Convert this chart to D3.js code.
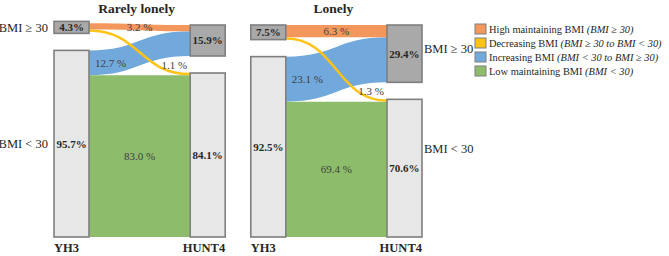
<!DOCTYPE html>
<html>
<head>
<meta charset="utf-8">
<script src="https://cdn.jsdelivr.net/npm/d3@7"></script>
<style>
  body { margin: 0; background: #fff; }
</style>
</head>
<body>
<svg id="chart" width="669" height="256" font-family="'Liberation Serif', 'Times New Roman', Times, serif"></svg>
<script>
const panels = ["Rarely lonely", "Lonely"];
const stages = ["YH3", "HUNT4"];
const yh3High = [4.3, 7.5];
const yh3Low = [95.7, 92.5];
const hunt4High = [15.9, 29.4];
const hunt4Low = [84.1, 70.6];
const flowHigh = [3.2, 6.3];
const flowDecreasing = [1.1, 1.3];
const flowIncreasing = [12.7, 23.1];
const flowLow = [83.0, 69.4];
const groupLabels = ["BMI \u2265 30", "BMI < 30"];
const legendLabels = [
  ["High maintaining BMI ", "(BMI \u2265 30)"],
  ["Decreasing BMI ", "(BMI \u2265 30 to BMI < 30)"],
  ["Increasing  BMI ", "(BMI < 30 to BMI \u2265 30)"],
  ["Low maintaining  BMI ", "(BMI < 30)"],
];

const COLORS = { high: "#f4975c", dec: "#ffc217", inc: "#72a9dc", low: "#8dbd6b" };
const NODE_DARK = "#a9a9a9", NODE_LIGHT = "#e7e7e7", NODE_STROKE = "#7f7f7f";
const BOTTOM = 237, GAP = 17, NODE_W = 35, MIN_H = 12;

const svg = d3.select("#chart");
const h = d3.scaleLinear().domain([0, 100]).range([0, 195]);
const px = d3.scaleBand().domain(panels).range([54, 422]).paddingInner(0.13);
const sx = d3.scalePoint().domain(stages).range([0, px.bandwidth() - NODE_W]);

function band(x0, a0, b0, x1, a1, b1) {
  const xm = (x0 + x1) / 2;
  return `M${x0},${a0}C${xm},${a0} ${xm},${a1} ${x1},${a1}L${x1},${b1}C${xm},${b1} ${xm},${b0} ${x0},${b0}Z`;
}

const fmt = (v) => `${v.toFixed(1)} %`;

panels.forEach((name, i) => {
  const g = svg.append("g").attr("transform", `translate(${px(name)},0)`);
  const xl = sx("YH3"), xr = sx("HUNT4");

  // node extents
  const lLowTop = BOTTOM - h(yh3Low[i]);
  const lHighH = Math.max(h(yh3High[i]), MIN_H);
  const lHighTop = lLowTop - GAP - lHighH;
  const rLowTop = BOTTOM - h(hunt4Low[i]);
  const rHighH = h(hunt4High[i]);
  const rHighTop = rLowTop - GAP - rHighH;

  // flow positions
  const lFlowTop = lHighTop + (lHighH - h(flowHigh[i] + flowDecreasing[i])) / 2;
  const hiL = [lFlowTop, lFlowTop + h(flowHigh[i])];
  const hiR = [rHighTop, rHighTop + h(flowHigh[i])];
  const decL = (hiL[1] + hiL[1] + h(flowDecreasing[i])) / 2;
  const decR = rLowTop + h(flowDecreasing[i]) / 2;
  const incL = [lLowTop, lLowTop + h(flowIncreasing[i])];
  const incR = [hiR[1], hiR[1] + h(flowIncreasing[i])];
  const lowL = [incL[1], BOTTOM];
  const lowR = [rLowTop + h(flowDecreasing[i]), BOTTOM];

  const x0 = xl + NODE_W, x1 = xr;
  g.append("path").attr("d", band(x0, incL[0], incL[1], x1, incR[0], incR[1])).attr("fill", COLORS.inc);
  g.append("path").attr("d", band(x0, lowL[0], lowL[1], x1, lowR[0], lowR[1])).attr("fill", COLORS.low);
  g.append("path").attr("d", band(x0, hiL[0], hiL[1], x1, hiR[0], hiR[1])).attr("fill", COLORS.high);
  g.append("path")
    .attr("d", d3.linkHorizontal()({ source: [x0, decL], target: [x1, decR] }))
    .attr("fill", "none").attr("stroke", COLORS.dec).attr("stroke-width", 2.5);

  // nodes
  const nodes = [
    { x: xl, y: lHighTop, hh: lHighH, fill: NODE_DARK, v: yh3High[i] },
    { x: xl, y: lLowTop, hh: BOTTOM - lLowTop, fill: NODE_LIGHT, v: yh3Low[i] },
    { x: xr, y: rHighTop, hh: rHighH, fill: NODE_DARK, v: hunt4High[i] },
    { x: xr, y: rLowTop, hh: BOTTOM - rLowTop, fill: NODE_LIGHT, v: hunt4Low[i] },
  ];
  g.selectAll("rect.node").data(nodes).join("rect").attr("class", "node")
    .attr("x", (d) => d.x).attr("y", (d) => d.y)
    .attr("width", NODE_W).attr("height", (d) => d.hh)
    .attr("fill", (d) => d.fill).attr("stroke", NODE_STROKE).attr("stroke-width", 1.6);
  g.selectAll("text.node").data(nodes).join("text").attr("class", "node")
    .attr("x", (d) => d.x + NODE_W / 2).attr("y", (d) => d.y + d.hh / 2)
    .attr("dy", "0.35em").attr("text-anchor", "middle")
    .attr("font-size", 11).attr("font-weight", "bold").attr("fill", "#262626")
    .text((d) => `${d.v.toFixed(1)}%`);

  // flow labels
  const lab = (x, y, anchor, t) => g.append("text").attr("x", x).attr("y", y).attr("dy", "0.35em")
    .attr("text-anchor", anchor).attr("font-size", 11).attr("fill", "#404040").text(t);
  const xm = (x0 + x1) / 2;
  lab(xm, (hiL[0] + hiL[1] + hiR[0] + hiR[1]) / 4, "middle", fmt(flowHigh[i]));
  lab(x0 + 6, (incL[0] + incL[1]) / 2, "start", fmt(flowIncreasing[i]));
  lab(x1 - 3, decR - 9, "end", fmt(flowDecreasing[i]));
  lab(xm, (lowL[0] + lowL[1]) / 2, "middle", fmt(flowLow[i]));

  // title and stage labels
  g.append("text").attr("x", (xl + xr + NODE_W) / 2 - 3).attr("y", 8).attr("dy", "0.35em")
    .attr("text-anchor", "middle").attr("font-size", 13.5).attr("font-weight", "bold")
    .attr("fill", "#262626").text(name);
  g.append("text").attr("x", xl).attr("y", 248).attr("dy", "0.35em")
    .attr("font-size", 12.5).attr("font-weight", "bold").attr("fill", "#262626").text(stages[0]);
  g.append("text").attr("x", xr + NODE_W).attr("y", 248).attr("dy", "0.35em").attr("text-anchor", "end")
    .attr("font-size", 12.5).attr("font-weight", "bold").attr("fill", "#262626").text(stages[1]);

  // group labels
  const side = (x, y, anchor, t) => g.append("text").attr("x", x).attr("y", y).attr("dy", "0.35em")
    .attr("text-anchor", anchor).attr("font-size", 12.5).attr("fill", "#262626").text(t);
  if (i === 0) {
    side(xl - 6, lHighTop + lHighH / 2, "end", groupLabels[0]);
    side(xl - 6, lLowTop + 93, "end", groupLabels[1]);
  } else {
    side(xr + NODE_W + 2, rHighTop + rHighH / 2 - 5, "start", groupLabels[0]);
    side(xr + NODE_W + 2, rLowTop + 49, "start", groupLabels[1]);
  }
});

// legend
const legendColors = [COLORS.high, COLORS.dec, COLORS.inc, COLORS.low];
const ly = d3.scaleBand().domain(d3.range(legendLabels.length)).range([23, 79]);
const lg = svg.append("g").attr("transform", "translate(475,0)");
const rows = lg.selectAll("g").data(legendLabels).join("g")
  .attr("transform", (_, k) => `translate(0,${ly(k)})`);
rows.append("rect").attr("width", 11).attr("height", 10).attr("y", 1)
  .attr("fill", (_, k) => legendColors[k]).attr("stroke", NODE_STROKE).attr("stroke-width", 1);
const tx = rows.append("text").attr("x", 14).attr("y", 6).attr("dy", "0.35em")
  .attr("font-size", 10.4).attr("fill", "#262626");
tx.append("tspan").text((d) => d[0]);
tx.append("tspan").attr("font-style", "italic").text((d) => d[1]);
</script>
</body>
</html>
